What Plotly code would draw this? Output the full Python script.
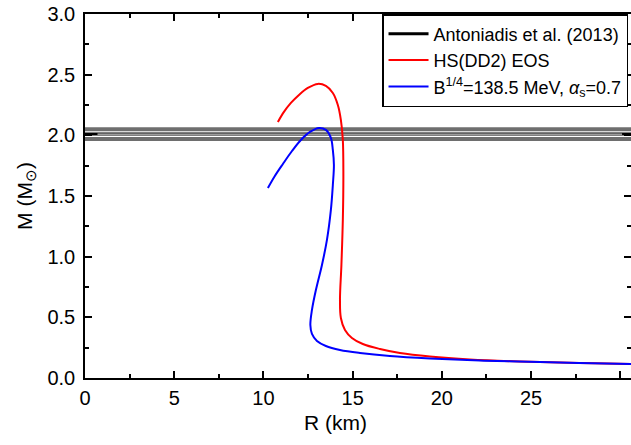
import plotly.graph_objects as go

# ---------------- data ----------------
# HS(DD2) EOS mass-radius curve
dd2_R = [10.81, 11.15, 11.54, 11.99, 12.49, 13.05, 13.50, 13.89, 14.17, 14.34, 14.45,
         14.48, 14.45, 14.37, 14.29, 14.34, 14.57, 14.96, 15.57, 16.53, 17.65, 19.33,
         21.57, 24.37, 27.73, 30.59, 31.5]
dd2_M = [2.110, 2.193, 2.267, 2.333, 2.391, 2.424, 2.407, 2.349, 2.250, 2.127, 1.962,
         1.674, 1.303, 0.932, 0.643, 0.495, 0.396, 0.330, 0.280, 0.239, 0.206, 0.177,
         0.153, 0.136, 0.124, 0.115, 0.113]

# B^1/4 = 138.5 MeV, alpha_s = 0.7 curve
qm_R = [10.25, 10.64, 11.09, 11.60, 12.10, 12.61, 13.11, 13.50, 13.78, 13.89, 13.95,
        13.89, 13.78, 13.56, 13.28, 12.94, 12.72, 12.63, 12.72, 13.00, 13.50, 14.29,
        15.41, 17.09, 19.33, 22.13, 25.49, 30.59, 31.5]
qm_M = [1.566, 1.665, 1.764, 1.871, 1.962, 2.028, 2.061, 2.045, 1.979, 1.880, 1.756,
        1.591, 1.385, 1.138, 0.932, 0.725, 0.561, 0.437, 0.363, 0.305, 0.264, 0.231,
        0.206, 0.181, 0.161, 0.144, 0.132, 0.115, 0.113]

# Antoniadis et al. (2013): 2.01 +/- 0.04 Msun
ant_M = 2.01
ant_err = 0.04
band_R = [0, 31]
inner_R = [0.7, 30.1]

x_ticks = [0, 5, 10, 15, 20, 25, 30]
x_ticktext = ["0", "5", "10", "15", "20", "25", ""]
y_ticks = [0.0, 0.5, 1.0, 1.5, 2.0, 2.5, 3.0]

FONT = "Liberation Sans, Arial, Helvetica, sans-serif"

fig = go.Figure()

# error band edges
for m in (ant_M + ant_err, ant_M - ant_err):
    fig.add_trace(go.Scatter(x=band_R, y=[m, m], mode="lines",
                             line=dict(color="#6e6e6e", width=4),
                             showlegend=False, hoverinfo="skip"))
fig.add_trace(go.Scatter(x=band_R, y=[ant_M, ant_M], mode="lines",
                         line=dict(color="black", width=3),
                         name="Antoniadis et al. (2013)"))
fig.add_trace(go.Scatter(x=inner_R, y=[ant_M, ant_M], mode="lines",
                         line=dict(color="white", width=1),
                         showlegend=False, hoverinfo="skip"))

fig.add_trace(go.Scatter(x=dd2_R, y=dd2_M, mode="lines",
                         line=dict(color="#ff0000", width=2, shape="spline", smoothing=1.0),
                         name="HS(DD2) EOS"))
fig.add_trace(go.Scatter(x=qm_R, y=qm_M, mode="lines",
                         line=dict(color="#0000ff", width=2, shape="spline", smoothing=1.0),
                         name="B<sup>1/4</sup>=138.5 MeV, <i>α</i><sub>s</sub>=0.7"))

fig.update_layout(
    width=631, height=445,
    margin=dict(l=85, r=0, t=14, b=67, autoexpand=False),
    paper_bgcolor="white", plot_bgcolor="white",
    font=dict(family=FONT, size=19, color="black"),
    showlegend=True,
    legend=dict(x=0.544, y=1.0, xanchor="left", yanchor="top",
                bgcolor="white", bordercolor="black", borderwidth=1.5,
                font=dict(family=FONT, size=18, color="black"),
                tracegroupgap=0, itemwidth=40),
    xaxis=dict(range=[0, 30.6], tickvals=x_ticks, ticktext=x_ticktext,
               ticks="inside", ticklen=7, tickwidth=1.5, tickcolor="black",
               minor=dict(dtick=2.5, ticks="inside", ticklen=4, tickwidth=1.5, tickcolor="black"),
               showline=True, linecolor="black", linewidth=1.5, mirror="allticks",
               showgrid=False, zeroline=False, ticklabelstandoff=1,
               tickfont=dict(family=FONT, size=20)),
    yaxis=dict(range=[0, 3.0], tickvals=y_ticks, tickformat=".1f",
               ticks="inside", ticklen=7, tickwidth=1.5, tickcolor="black",
               minor=dict(dtick=0.25, ticks="inside", ticklen=4, tickwidth=1.5, tickcolor="black"),
               showline=True, linecolor="black", linewidth=1.5, mirror="allticks",
               showgrid=False, zeroline=False, ticklabelstandoff=4,
               tickfont=dict(family=FONT, size=20),
               title=dict(text="M (M<sub>⊙</sub>)", font=dict(family=FONT, size=21), standoff=9)),
    annotations=[dict(text="R (km)", xref="paper", yref="paper", x=0.458, y=-0.085,
                      xanchor="center", yanchor="top", showarrow=False,
                      font=dict(family=FONT, size=21))],
)

fig.write_html("out.html")
